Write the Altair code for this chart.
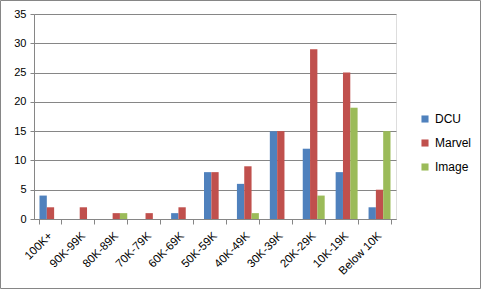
import altair as alt
import pandas as pd

categories = ["100K+", "90K-99K", "80K-89K", "70K-79K", "60K-69K", "50K-59K",
              "40K-49K", "30K-39K", "20K-29K", "10K-19K", "Below 10K"]
series = ["DCU", "Marvel", "Image"]
dcu = [4, 0, 0, 0, 1, 8, 6, 15, 12, 8, 2]
marvel = [2, 2, 1, 1, 2, 8, 9, 15, 29, 25, 5]
image = [0, 0, 1, 0, 0, 0, 1, 0, 4, 19, 15]
colors = ["#4F81BD", "#C0504D", "#9BBB59"]

rows = []
for name, vals in zip(series, [dcu, marvel, image]):
    for c, v in zip(categories, vals):
        rows.append({"cat": c, "series": name, "value": v})
df = pd.DataFrame(rows)

FONT = "Liberation Sans"
W, H = 362, 205

bars = alt.Chart(df).mark_bar().encode(
    x=alt.X("cat:N", sort=categories, title=None,
            scale=alt.Scale(paddingInner=0.333, paddingOuter=0.167),
            axis=alt.Axis(labelAngle=-45, labelAlign="right", labelBaseline="middle",
                          tickBand="extent", tickSize=5, tickColor="#868686",
                          domainColor="#868686", labelFont=FONT, labelFontSize=11.5,
                          labelColor="#000000", labelPadding=10, grid=False)),
    xOffset=alt.XOffset("series:N", sort=series, scale=alt.Scale(paddingInner=0, paddingOuter=0)),
    y=alt.Y("value:Q", title=None,
            scale=alt.Scale(domain=[0, 35], nice=False),
            axis=alt.Axis(values=[0, 5, 10, 15, 20, 25, 30, 35], tickSize=4,
                          tickColor="#868686", domainColor="#868686",
                          gridColor="#868686", labelFont=FONT, labelFontSize=11,
                          labelColor="#000000", labelPadding=4)),
    color=alt.Color("series:N", sort=series,
                    scale=alt.Scale(domain=series, range=colors),
                    legend=alt.Legend(title=None, orient="none", legendX=385, legendY=99,
                                      symbolType="square", symbolSize=50,
                                      symbolStrokeWidth=0, labelFont=FONT,
                                      labelFontSize=12, labelColor="#000000",
                                      rowPadding=12, labelOffset=4)),
)

border = alt.Chart(pd.DataFrame({"a": [0]})).mark_rect(
    fill=None, stroke="#868686", strokeWidth=1
).encode(
    x=alt.value(-33.5), x2=alt.value(W + 84.5),
    y=alt.value(-13.5), y2=alt.value(H + 69.5),
)

chart = alt.layer(bars, border).properties(
    width=W, height=H,
    autosize=alt.AutoSizeParams(type="none"),
    padding={"left": 34, "top": 14, "right": 85, "bottom": 70},
).configure_view(stroke=None).configure(background="white")

chart.save("out.html", embed_options={"renderer": "svg", "actions": False})
